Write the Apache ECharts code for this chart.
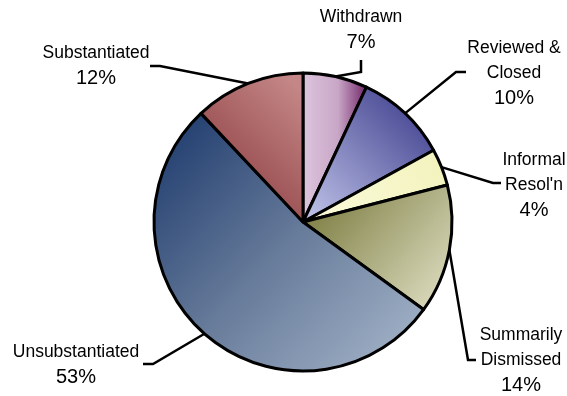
<!DOCTYPE html>
<html>
<head>
<meta charset="utf-8">
<script src="https://cdn.jsdelivr.net/npm/echarts@6/dist/echarts.min.js"></script>
<style>
  html, body { margin: 0; padding: 0; background: #fff; }
  #chart { width: 567px; height: 396px; }
</style>
</head>
<body>
<div id="chart"></div>
<script>
// Complaint outcomes, clockwise from 12 o'clock
var categories = ['Withdrawn', 'Reviewed &\nClosed', 'Informal\nResol\'n', 'Summarily\nDismissed', 'Unsubstantiated', 'Substantiated'];
var shares = [7, 10, 4, 14, 53, 12];

// Gradient fills per slice: [x, y, x2, y2, stops]
var fills = [
  [0, 0, 1, 0, [[0, '#dec6de'], [0.55, '#c8a6c6'], [1, '#6e2266']]],
  [1, 0, 0, 1, [[0, '#323284'], [1, '#c4c8ec']]],
  [1, 0, 0, 1, [[0, '#f2f2bc'], [1, '#fbfbdc']]],
  [0, 0, 1, 1, [[0, '#727234'], [1, '#e4e4ca']]],
  [0, 0, 1, 1, [[0, '#18366a'], [0.5, '#677b9a'], [1, '#a9b9cd']]],
  [0, 0.85, 1, 0.15, [[0, '#88383c'], [1, '#c48686']]]
];

// Label block centres and leader-line bends (elbow, end)
var labelSpots = [
  { x: 361, y: 30,  elbow: [361, 72],  end: [361, 60] },
  { x: 514, y: 73,  elbow: [456, 72],  end: [466, 72] },
  { x: 534, y: 185, elbow: [493, 183], end: [501, 183] },
  { x: 521, y: 360, elbow: [468, 360], end: [476, 360] },
  { x: 76,  y: 365, elbow: [153, 364], end: [143, 364] },
  { x: 96,  y: 66,  elbow: [160, 66],  end: [150, 66] }
];

var CX = 303, CY = 222, R = 149;

function gradient(f) {
  return new echarts.graphic.LinearGradient(f[0], f[1], f[2], f[3],
    f[4].map(function (s) { return { offset: s[0], color: s[1] }; }));
}

// Mid-angle point on the pie rim for each slice
var total = shares.reduce(function (a, b) { return a + b; }, 0);
var rimPoints = [];
var acc = 0;
shares.forEach(function (v) {
  var mid = (acc + v / 2) / total * Math.PI * 2;
  rimPoints.push([CX + R * Math.sin(mid), CY - R * Math.cos(mid)]);
  acc += v;
});

var data = categories.map(function (name, i) {
  return {
    name: name,
    value: shares[i],
    itemStyle: { color: gradient(fills[i]) }
  };
});

var chart = echarts.init(document.getElementById('chart'), null, { renderer: 'canvas' });
chart.setOption({
  backgroundColor: '#ffffff',
  animation: false,
  series: [{
    type: 'pie',
    center: [CX, CY],
    radius: [0, R],
    startAngle: 90,
    clockwise: true,
    avoidLabelOverlap: false,
    data: data,
    itemStyle: { borderColor: '#000', borderWidth: 3 },
    emphasis: { disabled: true },
    label: {
      show: true,
      position: 'outside',
      formatter: function (p) {
        var lines = p.name.split('\n').map(function (s) { return '{n|' + s + '}'; });
        lines.push('{p|' + p.value + '%}');
        return lines.join('\n');
      },
      rich: {
        n: { fontFamily: 'Liberation Sans, Arial, sans-serif', fontSize: 17.5, lineHeight: 25, color: '#000', align: 'center' },
        p: { fontFamily: 'Liberation Sans, Arial, sans-serif', fontSize: 20, lineHeight: 25, color: '#000', align: 'center' }
      }
    },
    labelLine: {
      show: true,
      lineStyle: { color: '#000', width: 2.5 }
    },
    labelLayout: function (params) {
      var i = params.dataIndex;
      var s = labelSpots[i];
      return {
        x: s.x,
        y: s.y,
        align: 'center',
        verticalAlign: 'middle',
        labelLinePoints: [rimPoints[i], s.elbow, s.end]
      };
    }
  }]
});
</script>
</body>
</html>
